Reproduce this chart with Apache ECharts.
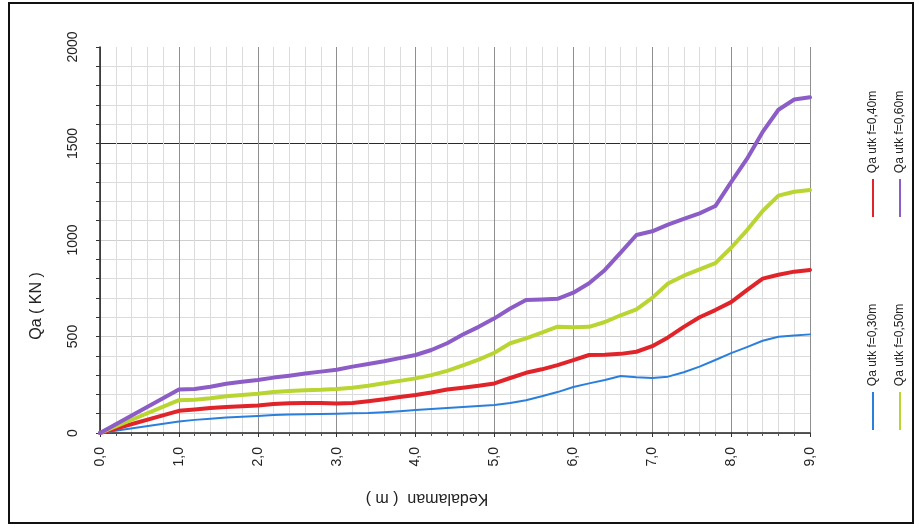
<!DOCTYPE html>
<html>
<head>
<meta charset="utf-8">
<script src="https://cdn.jsdelivr.net/npm/echarts@6/dist/echarts.min.js"></script>
<style>
  html, body { margin: 0; padding: 0; background: #ffffff; }
  #chart { width: 919px; height: 528px; }
</style>
</head>
<body>
<div id="chart"></div>
<script>
// Depth below ground (m)
const depthM = [0, 1.0, 1.2, 1.4, 1.6, 1.8, 2.0, 2.2, 2.4, 2.6, 2.8, 3.0, 3.2, 3.4, 3.6, 3.8,
  4.0, 4.2, 4.4, 4.6, 4.8, 5.0, 5.2, 5.4, 5.6, 5.8, 6.0, 6.2, 6.4, 6.6, 6.8,
  7.0, 7.2, 7.4, 7.6, 7.8, 8.0, 8.2, 8.4, 8.6, 8.8, 9.0];

// Allowable pile capacity Qa (kN) per pile diameter
const qa030 = [0, 60, 68, 74, 80, 84, 88, 93, 96, 97, 98, 100, 102, 104, 108, 113,
  119, 124, 130, 135, 140, 145, 155, 170, 190, 212, 238, 257, 275, 295, 289,
  285, 292, 315, 344, 378, 414, 445, 478, 499, 505, 511];
const qa040 = [0, 115, 122, 130, 135, 138, 142, 150, 154, 156, 155, 153, 155, 165, 175, 187,
  197, 210, 225, 235, 245, 257, 285, 312, 330, 352, 378, 404, 406, 410, 421,
  450, 495, 550, 600, 637, 678, 740, 800, 820, 836, 845];
const qa050 = [0, 170, 172, 180, 190, 197, 203, 212, 218, 222, 224, 228, 235, 245, 258, 270,
  283, 300, 322, 350, 380, 416, 465, 490, 520, 551, 548, 550, 575, 610, 640,
  700, 775, 815, 848, 880, 960, 1050, 1150, 1230, 1250, 1259];
const qa060 = [0, 225, 228, 240, 255, 265, 275, 287, 297, 308, 318, 328, 344, 358, 372, 388,
  404, 430, 465, 510, 550, 594, 645, 689, 692, 695, 727, 776, 845, 935, 1026,
  1045, 1080, 1110, 1138, 1176, 1300, 1420, 1560, 1675, 1728, 1740];

const seriesNames = ['Qa utk f=0,30m', 'Qa utk f=0,40m', 'Qa utk f=0,50m', 'Qa utk f=0,60m'];
const seriesColors = ['#2b7fdc', '#e0242a', '#b9d531', '#8c5dc6'];
const seriesWidths = [2, 4, 4, 4];
const seriesValues = [qa030, qa040, qa050, qa060];

const toPairs = vals => depthM.map((d, i) => [d, vals[i]]);

const chart = echarts.init(document.getElementById('chart'), null, { renderer: 'canvas' });

const FONT = 'Liberation Sans, Arial, sans-serif';

// rotated legend entries: text reads bottom-to-top, sample line below the text
function legendEntry(name, color, x, lineTop, lineBottom, textY) {
  return [
    { type: 'line', shape: { x1: x, y1: lineTop, x2: x, y2: lineBottom },
      style: { stroke: color, lineWidth: 2 }, silent: true },
    { type: 'text', x: x, y: textY, rotation: Math.PI / 2,
      style: { text: name, fill: '#222', font: '12px ' + FONT, align: 'center', verticalAlign: 'middle' },
      silent: true }
  ];
}

const option = {
  backgroundColor: '#ffffff',
  animation: false,
  grid: { left: 100, right: 109, top: 47, bottom: 95, containLabel: false },
  xAxis: {
    type: 'value', min: 0, max: 9, interval: 1,
    axisLine: { show: true, onZero: false, lineStyle: { color: '#222', width: 1.5 } },
    axisTick: { show: true, length: 4, lineStyle: { color: '#333' } },
    minorTick: { show: true, splitNumber: 5, length: 3, lineStyle: { color: '#555' } },
    axisLabel: {
      rotate: 90, margin: 14, color: '#222', fontSize: 14, fontFamily: FONT,
      formatter: v => v.toFixed(1).replace('.', ',')
    },
    splitLine: { show: true, lineStyle: { color: '#8f8f8f', width: 1 } },
    minorSplitLine: { show: true, lineStyle: { color: '#dcdcdc', width: 1 } }
  },
  yAxis: {
    type: 'value', min: 0, max: 2000, interval: 500,
    axisLine: { show: true, onZero: false, lineStyle: { color: '#222', width: 1.5 } },
    axisTick: { show: true, length: 4, lineStyle: { color: '#333' } },
    minorTick: { show: true, splitNumber: 5, length: 4, lineStyle: { color: '#333' } },
    axisLabel: { rotate: 90, margin: 20, color: '#222', fontSize: 14, fontFamily: FONT,
      formatter: v => String(v) },
    splitLine: { show: true, showMaxLine: false,
      lineStyle: { color: ['#cfcfcf', '#cfcfcf', '#cfcfcf', '#2a2a2a', '#cfcfcf'], width: 1 } },
    minorSplitLine: { show: true, lineStyle: { color: '#dcdcdc', width: 1 } }
  },
  series: seriesValues.map((vals, i) => ({
    name: seriesNames[i],
    type: 'line',
    data: toPairs(vals),
    smooth: false,
    showSymbol: false,
    symbol: 'none',
    z: 3 + i,
    lineStyle: { color: seriesColors[i], width: seriesWidths[i], join: 'round', cap: 'round' },
    itemStyle: { color: seriesColors[i] }
  })),
  graphic: [
    { type: 'rect', shape: { x: 9, y: 3, width: 904, height: 520 },
      style: { fill: 'none', stroke: '#111', lineWidth: 2 }, silent: true, z: 10 },
    { type: 'text', x: 37, y: 306, rotation: Math.PI / 2,
      style: { text: 'Qa ( KN )', fill: '#222', font: '16px ' + FONT, align: 'center', verticalAlign: 'middle' } },
    { type: 'text', x: 427, y: 498, rotation: Math.PI,
      style: { text: 'Kedalaman  ( m )', fill: '#222', font: '16px ' + FONT, align: 'center', verticalAlign: 'middle' } },
    ...legendEntry(seriesNames[1], seriesColors[1], 873, 179, 217, 132),
    ...legendEntry(seriesNames[3], seriesColors[3], 900, 179, 217, 132),
    ...legendEntry(seriesNames[0], seriesColors[0], 873, 392, 430, 345),
    ...legendEntry(seriesNames[2], seriesColors[2], 900, 392, 430, 345)
  ]
};

chart.setOption(option);
</script>
</body>
</html>
